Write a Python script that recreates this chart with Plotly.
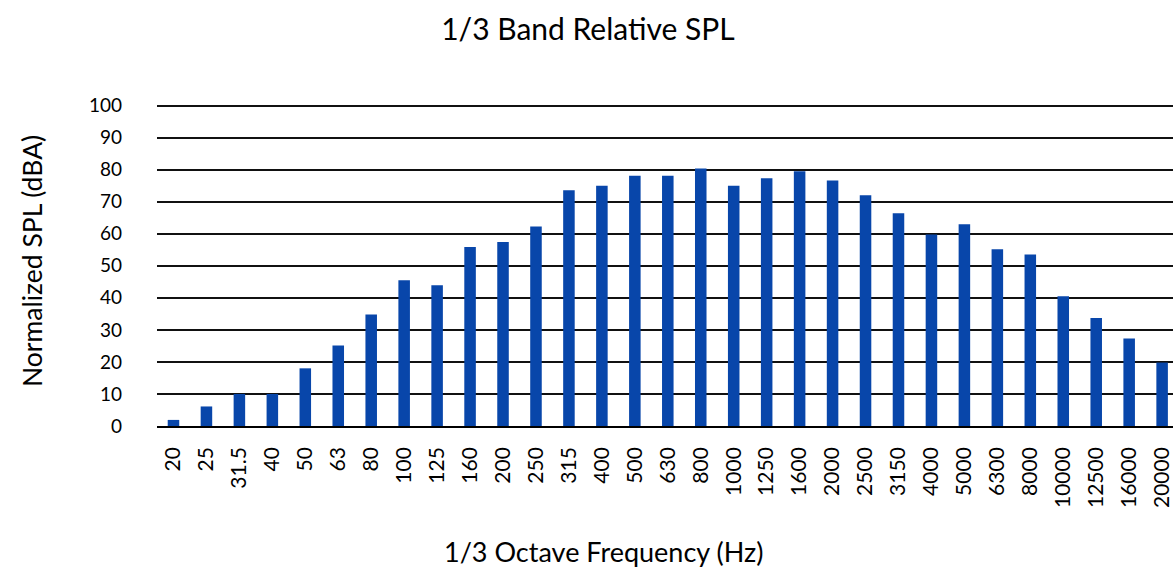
import plotly.graph_objects as go

freq_labels = ["20", "25", "31.5", "40", "50", "63", "80", "100", "125", "160",
               "200", "250", "315", "400", "500", "630", "800", "1000", "1250", "1600",
               "2000", "2500", "3150", "4000", "5000", "6300", "8000", "10000", "12500", "16000",
               "20000"]
spl_values = [1.9, 6.1, 10.0, 10.0, 18.0, 25.1, 34.8, 45.5, 43.9, 55.9,
              57.4, 62.3, 73.6, 75.0, 78.1, 78.1, 80.4, 75.0, 77.3, 79.5,
              76.6, 72.0, 66.4, 59.8, 63.0, 55.2, 53.5, 40.5, 33.7, 27.3,
              19.8]
y_ticks = [0, 10, 20, 30, 40, 50, 60, 70, 80, 90, 100]

W, H = 1173, 573
L, R, T, B = 157, 0, 104, 147
FONT = "Lato"

def px_x(x):
    return (x - L) / (W - L - R)

def px_y(y):
    return (H - B - y) / (H - T - B)

fig = go.Figure(go.Bar(
    x=freq_labels,
    y=spl_values,
    marker=dict(color="#0846AA", line=dict(width=0)),
    width=0.35,
))

fig.update_layout(
    width=W, height=H,
    margin=dict(l=L, r=R, t=T, b=B, autoexpand=False),
    paper_bgcolor="white", plot_bgcolor="white",
    font=dict(family=FONT, color="black"),
    showlegend=False,
    title=dict(text="1/3 Band Relative SPL", x=588 / W, xanchor="center",
               y=1 - 29 / H, yanchor="middle", yref="container",
               font=dict(size=30, family=FONT, color="black")),
    xaxis=dict(
        type="category",
        range=[-0.5, 30.33],
        tickangle=-90,
        tickfont=dict(size=21, family=FONT, color="black"),
        showgrid=False,
        showline=True, linecolor="black", linewidth=1.5,
        ticks="", ticklabelstandoff=11,
        ticklabeloverflow="allow",
    ),
    yaxis=dict(
        range=[0, 100.5],
        tickvals=y_ticks,
        tickfont=dict(size=19, family=FONT, color="black"),
        showgrid=True, gridcolor="#111111", gridwidth=1.5,
        zeroline=False, showline=False,
        ticks="", ticklabelstandoff=34,
    ),
    annotations=[
        dict(text="1/3 Octave Frequency (Hz)", xref="paper", yref="paper",
             x=px_x(603), y=px_y(551), xanchor="center", yanchor="middle",
             showarrow=False, font=dict(size=27, family=FONT, color="black")),
        dict(text="Normalized SPL (dBA)", xref="paper", yref="paper",
             x=px_x(32), y=px_y(261), xanchor="center", yanchor="middle",
             textangle=-90, showarrow=False,
             font=dict(size=26.5, family=FONT, color="black")),
    ],
)

fig.write_html("out.html",
               config={"displayModeBar": False},
               post_script="document.body.style.margin='0';document.body.style.overflow='hidden';")
